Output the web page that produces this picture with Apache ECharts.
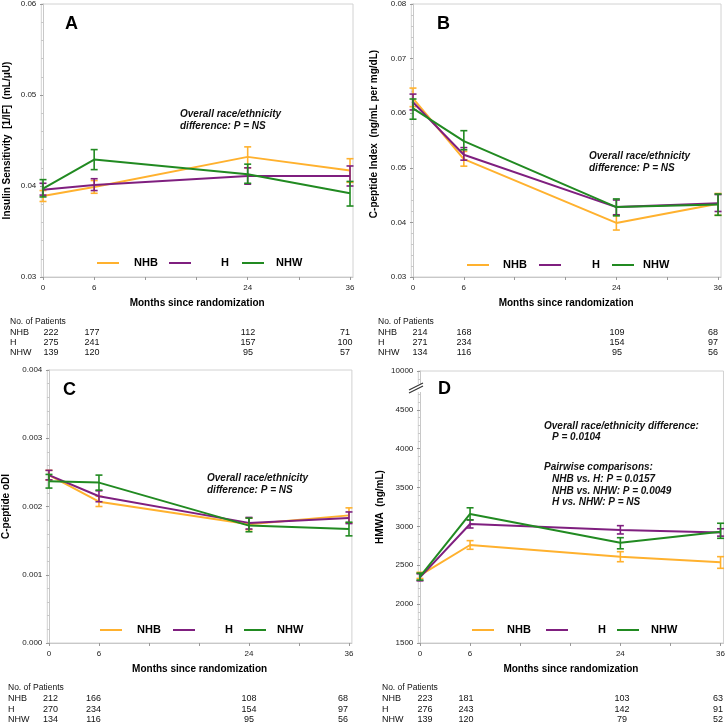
<!DOCTYPE html>
<html><head><meta charset="utf-8">
<script src="https://cdn.jsdelivr.net/npm/echarts@6/dist/echarts.min.js"></script>
<style>html,body{margin:0;padding:0;background:#fff}#c{width:728px;height:725px}</style>
</head><body><div id="c"></div>
<script>
// ---------- DATA ----------
const months = [0, 6, 24, 36];
const groupNames = ['NHB', 'H', 'NHW'];
const xTickValues = [0, 6, 12, 18, 24, 30, 36];
const xLabelValues = [0, 6, 24, 36];

// Panel A: Insulin sensitivity
const aNHB = [0.0389, 0.0399, 0.0432, 0.0417];
const aNHBLo = [0.0383, 0.0392, 0.0420, 0.0404];
const aNHBHi = [0.0395, 0.0406, 0.0443, 0.0430];
const aH = [0.0396, 0.0401, 0.0411, 0.0411];
const aHLo = [0.0390, 0.0395, 0.0402, 0.0400];
const aHHi = [0.0403, 0.0408, 0.0420, 0.0422];
const aNHW = [0.0397, 0.0429, 0.0413, 0.0392];
const aNHWLo = [0.0388, 0.0418, 0.0403, 0.0378];
const aNHWHi = [0.0407, 0.0440, 0.0424, 0.0405];

// Panel B: C-peptide index
const bNHB = [0.0627, 0.0516, 0.0399, 0.0434];
const bNHBLo = [0.0612, 0.0503, 0.0386, 0.0413];
const bNHBHi = [0.0646, 0.0530, 0.0413, 0.0453];
const bH = [0.0620, 0.0524, 0.0428, 0.0435];
const bHLo = [0.0606, 0.0514, 0.0414, 0.0420];
const bHHi = [0.0635, 0.0537, 0.0441, 0.0451];
const bNHW = [0.0609, 0.0549, 0.0428, 0.0433];
const bNHWLo = [0.0589, 0.0533, 0.0412, 0.0413];
const bNHWHi = [0.0626, 0.0568, 0.0443, 0.0452];

// Panel C: C-peptide oDI
const cNHB = [0.00246, 0.00207, 0.00174, 0.00187];
const cNHBLo = [0.00239, 0.00200, 0.00166, 0.00176];
const cNHBHi = [0.00253, 0.00215, 0.00183, 0.00198];
const cH = [0.00246, 0.00215, 0.00176, 0.00183];
const cHLo = [0.00239, 0.00207, 0.00167, 0.00175];
const cHHi = [0.00253, 0.00223, 0.00184, 0.00192];
const cNHW = [0.00237, 0.00235, 0.00172, 0.00167];
const cNHWLo = [0.00227, 0.00224, 0.00163, 0.00157];
const cNHWHi = [0.00247, 0.00246, 0.00183, 0.00177];

// Panel D: HMWA
const dNHB = [2370, 2761, 2611, 2539];
const dNHBLo = [2330, 2706, 2546, 2461];
const dNHBHi = [2410, 2817, 2675, 2611];
const dH = [2345, 3031, 2954, 2922];
const dHLo = [2300, 2980, 2903, 2875];
const dHHi = [2390, 3085, 3010, 2970];
const dNHW = [2355, 3160, 2791, 2933];
const dNHWLo = [2310, 3083, 2712, 2847];
const dNHWHi = [2400, 3240, 2855, 3041];

// Number of patients
const nA_NHB = [222, 177, 112, 71];
const nA_H = [275, 241, 157, 100];
const nA_NHW = [139, 120, 95, 57];
const nB_NHB = [214, 168, 109, 68];
const nB_H = [271, 234, 154, 97];
const nB_NHW = [134, 116, 95, 56];
const nC_NHB = [212, 166, 108, 68];
const nC_H = [270, 234, 154, 97];
const nC_NHW = [134, 116, 95, 56];
const nD_NHB = [223, 181, 103, 63];
const nD_H = [276, 243, 142, 91];
const nD_NHW = [139, 120, 79, 52];

// ---------- STYLE / LAYOUT ----------
const FONT = "'Liberation Sans', Arial, sans-serif";
const colors = ['#FFB12E', '#7F1F7F', '#218A21'];
const noteNS = ['Overall race/ethnicity', 'difference: P = NS'];

const panels = [
  { letter: 'A', grid: { left: 41.3, top: 4, width: 311.7, height: 273 },
    yMin: 0.03, yMax: 0.06, yInt: 0.01, dec: 2, nameGap: 29,
    yName: 'Insulin Sensitivity  [1/IF]  (mL/\u03bcU)',
    series: [[aNHB, aNHBLo, aNHBHi], [aH, aHLo, aHHi], [aNHW, aNHWLo, aNHWHi]],
    note: { x: 180, y: 114 }, letterPos: [65, 24],
    legend: { y: 263, icons: [97, 169, 242], pads: [10, 25, 7] },
    table: { labelX: 10, headerY: 321.5, rowY: [333, 343, 353], colX: [51, 92, 248, 345], counts: [nA_NHB, nA_H, nA_NHW] } },
  { letter: 'B', grid: { left: 411.3, top: 4, width: 309.7, height: 273 },
    yMin: 0.03, yMax: 0.08, yInt: 0.01, dec: 2, nameGap: 31,
    yName: 'C-peptide Index  (ng/mL per mg/dL)', yNamePos: [374, 134],
    series: [[bNHB, bNHBLo, bNHBHi], [bH, bHLo, bHHi], [bNHW, bNHWLo, bNHWHi]],
    note: { x: 589, y: 156 }, letterPos: [437, 24],
    legend: { y: 265, icons: [467, 539, 612], pads: [9, 26, 4] },
    table: { labelX: 378, headerY: 321.5, rowY: [333, 343, 353], colX: [420, 464, 617, 713], counts: [nB_NHB, nB_H, nB_NHW] } },
  { letter: 'C', grid: { left: 47.3, top: 370, width: 304.6, height: 273 },
    yMin: 0, yMax: 0.004, yInt: 0.001, dec: 3, nameGap: 36,
    yName: 'C-peptide oDI',
    series: [[cNHB, cNHBLo, cNHBHi], [cH, cHLo, cHHi], [cNHW, cNHWLo, cNHWHi]],
    note: { x: 207, y: 478 }, letterPos: [63, 390],
    legend: { y: 630, icons: [100, 173, 244], pads: [10, 25, 6] },
    table: { labelX: 8, headerY: 688, rowY: [699, 710, 720], colX: [50.5, 93.5, 249, 343], counts: [nC_NHB, nC_H, nC_NHW] } },
  { letter: 'D', grid: { left: 418.3, top: 371, width: 308.6, height: 272 },
    yMin: 1500, yMax: 5000, yInt: 500, dec: 0, nameGap: 33,
    yName: 'HMWA  (ng/mL)',
    series: [[dNHB, dNHBLo, dNHBHi], [dH, dHLo, dHHi], [dNHW, dNHWLo, dNHWHi]],
    note: null, letterPos: [438, 389],
    legend: { y: 630, icons: [472, 546, 617], pads: [8, 25, 7] },
    table: { labelX: 382, headerY: 688, rowY: [699, 710, 720], colX: [425, 466, 622, 718], counts: [nD_NHB, nD_H, nD_NHW] } }
];

const dNotes = [
  { text: 'Overall race/ethnicity difference:', x: 544, y: 426 },
  { text: 'P = 0.0104', x: 552, y: 437.5 },
  { text: 'Pairwise comparisons:', x: 544, y: 467 },
  { text: 'NHB vs. H: P = 0.0157', x: 552, y: 479 },
  { text: 'NHB vs. NHW: P = 0.0049', x: 552, y: 491 },
  { text: 'H vs. NHW: P = NS', x: 552, y: 502 }
];

// ---------- BUILD OPTION ----------
const grids = [], xAxes = [], yAxes = [], series = [], legends = [], graphics = [];

function errRender(color) {
  return function (params, api) {
    const x = api.value(0), lo = api.value(1), hi = api.value(2);
    const p1 = api.coord([x, lo]), p2 = api.coord([x, hi]);
    const hw = 3.5;
    const st = { stroke: color, lineWidth: 1.6 };
    return { type: 'group', children: [
      { type: 'line', shape: { x1: p1[0], y1: p1[1], x2: p2[0], y2: p2[1] }, style: st },
      { type: 'line', shape: { x1: p1[0] - hw, y1: p1[1], x2: p1[0] + hw, y2: p1[1] }, style: st },
      { type: 'line', shape: { x1: p2[0] - hw, y1: p2[1], x2: p2[0] + hw, y2: p2[1] }, style: st }
    ] };
  };
}

const nameStyle = { fontSize: 10, fontWeight: 'bold', color: '#000', fontFamily: FONT };

panels.forEach((p, i) => {
  grids.push(Object.assign({ show: true, borderColor: '#d2d2d2', borderWidth: 1, backgroundColor: 'transparent' }, p.grid));
  xAxes.push({
    type: 'value', gridIndex: i, min: -0.2, max: 36.35,
    axisLine: { show: true, lineStyle: { color: '#c8c8c8' } },
    axisTick: { show: true, customValues: xTickValues, length: 3, lineStyle: { color: '#999' } },
    axisLabel: { customValues: xLabelValues, fontSize: 8, color: '#222', margin: 7, fontFamily: FONT },
    splitLine: { show: false },
    name: 'Months since randomization', nameLocation: 'middle', nameGap: 21,
    nameTextStyle: nameStyle
  });
  yAxes.push({
    type: 'value', gridIndex: i, min: p.yMin, max: p.yMax, interval: p.yInt,
    axisLine: { show: true, lineStyle: { color: '#c8c8c8' } },
    axisTick: { show: true, length: 3, lineStyle: { color: '#999' } },
    minorTick: { show: true, splitNumber: 5, length: 2, lineStyle: { color: '#c8c8c8' } },
    axisLabel: { fontSize: 8, color: '#222', margin: 5, fontFamily: FONT,
      formatter: v => (p.letter === 'D' ? (Math.round(v) === 5000 ? '10000' : String(Math.round(v))) : v.toFixed(p.dec)) },
    splitLine: { show: false },
    name: p.yNamePos ? '' : p.yName, nameLocation: 'middle', nameGap: p.nameGap,
    nameTextStyle: nameStyle
  });
  if (p.yNamePos) {
    graphics.push({ type: 'text', x: p.yNamePos[0], y: p.yNamePos[1], rotation: Math.PI / 2,
      style: { text: p.yName, fontSize: 10, fontWeight: 'bold', fill: '#000', fontFamily: FONT, align: 'center', verticalAlign: 'middle' } });
  }
  p.series.forEach((s, g) => {
    const [mean, lo, hi] = s;
    series.push({
      name: groupNames[g], type: 'custom', xAxisIndex: i, yAxisIndex: i,
      renderItem: errRender(colors[g]), encode: { x: 0, y: [1, 2] },
      data: months.map((m, k) => [m, lo[k], hi[k]]), z: 2 + g, silent: true
    });
    series.push({
      name: groupNames[g], type: 'line', xAxisIndex: i, yAxisIndex: i,
      data: months.map((m, k) => [m, mean[k]]), symbol: 'none',
      lineStyle: { color: colors[g], width: 2 }, itemStyle: { color: colors[g] }, z: 2 + g, silent: true
    });
  });
  groupNames.forEach((gname, g) => {
    legends.push({
      data: [gname], left: p.legend.icons[g], top: p.legend.y - 7, padding: 0,
      icon: 'rect', itemWidth: 22, itemHeight: 2, selectedMode: false,
      itemStyle: { color: colors[g] },
      textStyle: { fontSize: 11, fontWeight: 'bold', color: '#000', fontFamily: FONT, lineHeight: 14,
        padding: [0, 0, 0, p.legend.pads[g]] }
    });
  });
  graphics.push({ type: 'text', x: p.letterPos[0], y: p.letterPos[1],
    style: { text: p.letter, fontSize: 18, fontWeight: 'bold', fill: '#000', fontFamily: FONT, verticalAlign: 'middle' } });
  if (p.note) {
    graphics.push({ type: 'text', x: p.note.x, y: p.note.y - 6,
      style: { text: noteNS.join('\n'), fontSize: 10, fontWeight: 'bold', fontStyle: 'italic', lineHeight: 12,
        fill: '#111', fontFamily: FONT, verticalAlign: 'top' } });
  }
  const t = p.table;
  graphics.push({ type: 'text', x: t.labelX, y: t.headerY,
    style: { text: 'No. of Patients', fontSize: 8.5, fill: '#111', fontFamily: FONT, verticalAlign: 'middle' } });
  groupNames.forEach((gname, g) => {
    graphics.push({ type: 'text', x: t.labelX, y: t.rowY[g],
      style: { text: gname, fontSize: 9, fill: '#111', fontFamily: FONT, verticalAlign: 'middle' } });
    t.counts[g].forEach((n, k) => {
      graphics.push({ type: 'text', x: t.colX[k], y: t.rowY[g],
        style: { text: String(n), fontSize: 9, fill: '#111', fontFamily: FONT, align: 'center', verticalAlign: 'middle' } });
    });
  });
});

dNotes.forEach(n => {
  graphics.push({ type: 'text', x: n.x, y: n.y,
    style: { text: n.text, fontSize: 10, fontWeight: 'bold', fontStyle: 'italic', fill: '#111', fontFamily: FONT, verticalAlign: 'middle' } });
});

// axis break mark on panel D
graphics.push({ type: 'rect', shape: { x: 416, y: 384, width: 5, height: 8 }, style: { fill: '#fff' }, z: 100 });
graphics.push({ type: 'line', shape: { x1: 409, y1: 393, x2: 423, y2: 386 }, style: { stroke: '#333', lineWidth: 1.2 }, z: 101 });
graphics.push({ type: 'line', shape: { x1: 409, y1: 390, x2: 423, y2: 383 }, style: { stroke: '#333', lineWidth: 1.2 }, z: 101 });

const chart = echarts.init(document.getElementById('c'), null, { renderer: 'canvas' });
chart.setOption({
  animation: false,
  backgroundColor: '#fff',
  textStyle: { fontFamily: FONT },
  grid: grids, xAxis: xAxes, yAxis: yAxes, series: series, legend: legends, graphic: graphics
});
</script></body></html>
